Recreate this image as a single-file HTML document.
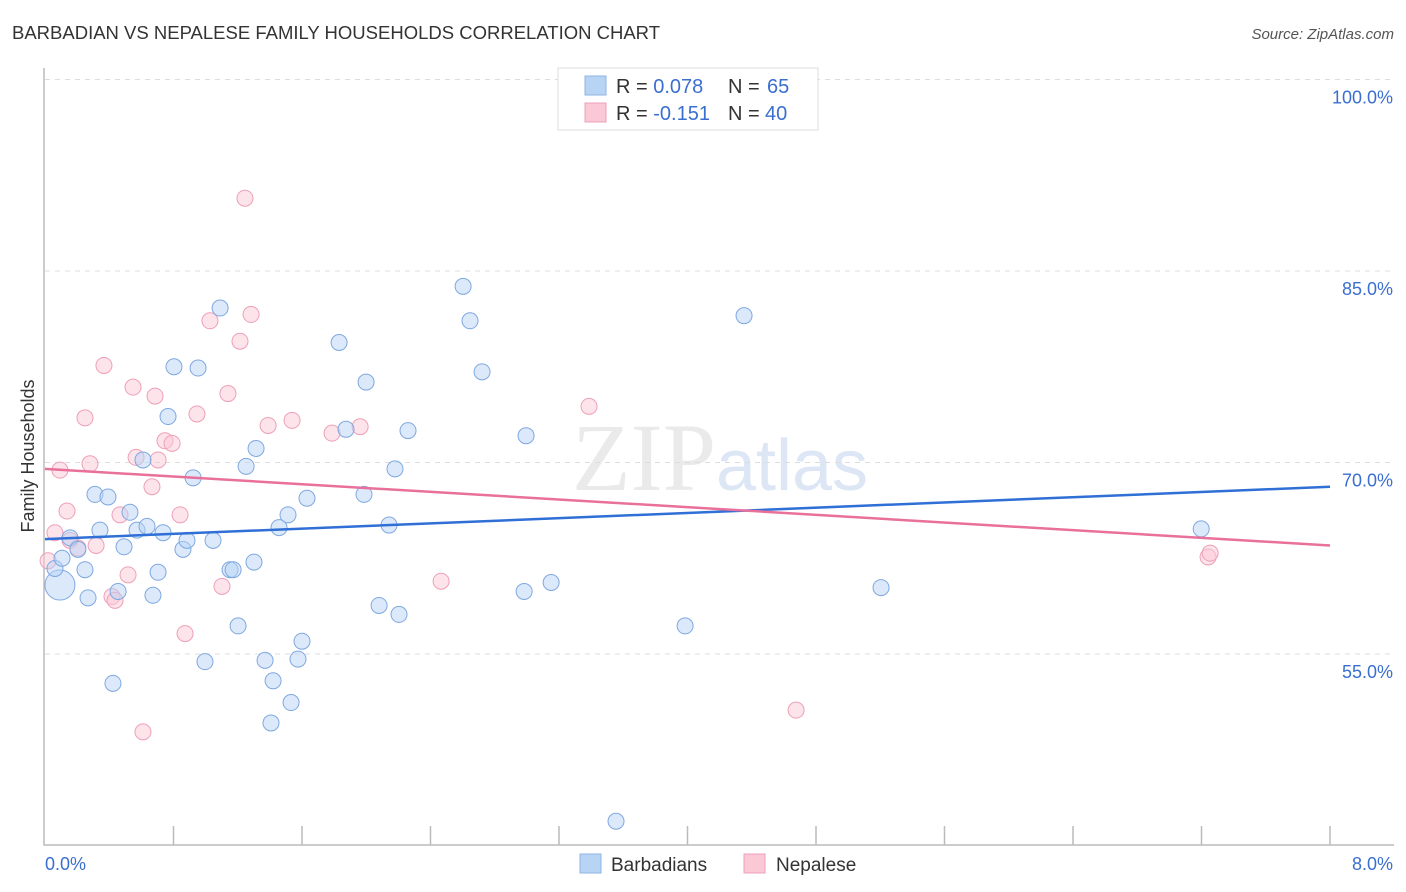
<!DOCTYPE html>
<html><head><meta charset="utf-8"><style>
body{margin:0;background:#fff;font-family:"Liberation Sans",sans-serif}
</style></head><body>
<svg id="chart" width="1406" height="892" xmlns="http://www.w3.org/2000/svg" style="display:block">
<text x="12" y="39" font-size="18.5" fill="#333">BARBADIAN VS NEPALESE FAMILY HOUSEHOLDS CORRELATION CHART</text>
<text x="1394" y="39" font-size="15" fill="#555" font-style="italic" text-anchor="end">Source: ZipAtlas.com</text>
<text x="720" y="490" font-size="96" text-anchor="middle" fill="#ddd" opacity="0.6" font-family="Liberation Serif,serif">ZIP<tspan fill="#c5d6ef" font-family="Liberation Sans,sans-serif" font-size="72">atlas</tspan></text>
<g id="grid"></g><g id="axes"></g><g id="marks"></g>
<text transform="translate(34,456) rotate(-90)" font-size="18" fill="#333" text-anchor="middle">Family Households</text>
<g>
<rect x="558" y="68" width="260" height="62" fill="#fff" stroke="#ddd"/>
<rect x="585" y="76" width="21" height="19" fill="#b8d4f5" stroke="#8fb3e3"/>
<rect x="585" y="103" width="21" height="19" fill="#fbc8d6" stroke="#eea0b8"/>
<text x="616" y="93" font-size="20" fill="#333">R = <tspan fill="#3a6fd0">0.078</tspan><tspan x="728">N = </tspan><tspan x="767" fill="#3a6fd0">65</tspan></text>
<text x="616" y="120" font-size="20" fill="#333">R = <tspan fill="#3a6fd0">-0.151</tspan><tspan x="728">N = </tspan><tspan x="765" fill="#3a6fd0">40</tspan></text>
</g>
<g>
<rect x="580" y="854" width="21" height="19" fill="#b8d4f5" stroke="#8fb3e3"/>
<text x="611" y="871" font-size="19" fill="#333">Barbadians</text>
<rect x="744" y="854" width="21" height="19" fill="#fbc8d6" stroke="#eea0b8"/>
<text x="776" y="871" font-size="19" fill="#333">Nepalese</text>
</g>
</svg>
<script>
const blueX=[.093,.062,.106,.342,.311,.392,.156,.205,.249,.268,.492,.455,.529,.573,.635,.610,.423,.672,.704,.735,.766,.803,.859,.884,.922,.953,1.046,.996,1.090,1.152,1.171,1.202,1.252,1.301,1.314,1.370,1.420,1.407,1.457,1.513,1.532,1.575,1.600,1.631,1.831,1.874,1.986,1.999,2.080,2.142,2.179,2.204,2.260,2.603,2.646,2.721,2.983,2.995,3.151,3.555,3.985,4.352,5.205,7.198];
const blueY=[60.4,61.7,62.5,64.7,67.5,67.3,64.1,63.2,61.6,59.4,63.4,59.9,66.1,64.7,65.0,70.2,52.7,59.6,61.4,64.5,73.6,77.5,63.2,63.9,68.8,77.4,63.9,54.4,82.1,61.6,61.6,57.2,69.7,62.2,71.1,54.5,52.9,49.6,64.9,65.9,51.2,54.6,56.0,67.2,79.4,72.6,67.5,76.3,58.8,65.1,69.5,58.1,72.5,83.8,81.1,77.1,59.9,72.1,60.6,41.9,57.2,81.5,60.2,64.8];
const pinkX=[.019,.062,.093,.137,.156,.205,.249,.280,.318,.367,.417,.436,.467,.517,.548,.567,.610,.666,.685,.704,.747,.791,.841,.872,.946,1.027,1.102,1.139,1.214,1.245,1.283,1.389,1.538,1.787,1.962,2.466,3.387,4.676,7.241,7.254];
const pinkY=[62.3,64.5,69.4,66.2,63.9,63.3,73.5,69.9,63.5,77.6,59.5,59.2,65.9,61.2,75.9,70.4,48.9,68.1,75.2,70.2,71.7,71.5,65.9,56.6,73.8,81.1,60.3,75.4,79.5,90.7,81.6,72.9,73.3,72.3,72.8,60.7,74.4,50.6,62.6,62.9];
const blueTrend=[64.0,68.1];
const pinkTrend=[69.5,63.5];
const yTicks=[100,85,70,55];
const NS="http://www.w3.org/2000/svg";
const X=v=>45+v/8*1285, Y=v=>79.5+(100-v)*191.5/15;
function mk(p,t,a){const e=document.createElementNS(NS,t);for(const k in a)e.setAttribute(k,a[k]);p.appendChild(e);return e;}
const grid=document.getElementById('grid'),axes=document.getElementById('axes'),marks=document.getElementById('marks');
yTicks.forEach(v=>{
 const l=mk(grid,'line',{x1:45,x2:1394,y1:Y(v),y2:Y(v),stroke:'#ddd','stroke-dasharray':'5,5'});
 
 
 const t=mk(grid,'text',{x:1393,y:Y(v)+24,'font-size':18,fill:'#3a6fd0','text-anchor':'end'});
 t.textContent=v.toFixed(1)+'%';
 
 
});
const ax=mk(axes,'path',{d:'M44,68V845H1394',fill:'none',stroke:'#bbb','stroke-width':1.5});


for(let i=1;i<=10;i++){const x=X(i*0.8);
 const tk=mk(axes,'line',{x1:x,x2:x,y1:826,y2:845,stroke:'#bbb','stroke-width':1.5});
 
 }
[[0,'0.0%',45,'start'],[8,'8.0%',1393,'end']].forEach(d=>{
 const t=mk(axes,'text',{x:d[2],y:870,'font-size':18,fill:'#3a6fd0','text-anchor':d[3]});t.textContent=d[1];
 
 });
function pts(xs,ys,fill,stroke,name){xs.forEach((x,i)=>{
 const c=mk(marks,'circle',{cx:X(x),cy:Y(ys[i]),r:(name==='barbadian-point'&&i===0)?15:8,fill:fill,'fill-opacity':0.5,stroke:stroke,'stroke-width':1});
 
 });}
pts(pinkX,pinkY,'#fbc8d6','#eea0b8','nepalese-point');
pts(blueX,blueY,'#b8d4f5','#7fa8e0','barbadian-point');
const bl=mk(marks,'line',{x1:X(0),x2:X(8),y1:Y(blueTrend[0]),y2:Y(blueTrend[1]),stroke:'#2f6fd6','stroke-width':2.5});


const pl=mk(marks,'line',{x1:X(0),x2:X(8),y1:Y(pinkTrend[0]),y2:Y(pinkTrend[1]),stroke:'#e8709a','stroke-width':2.5});


</script>
</body></html>
